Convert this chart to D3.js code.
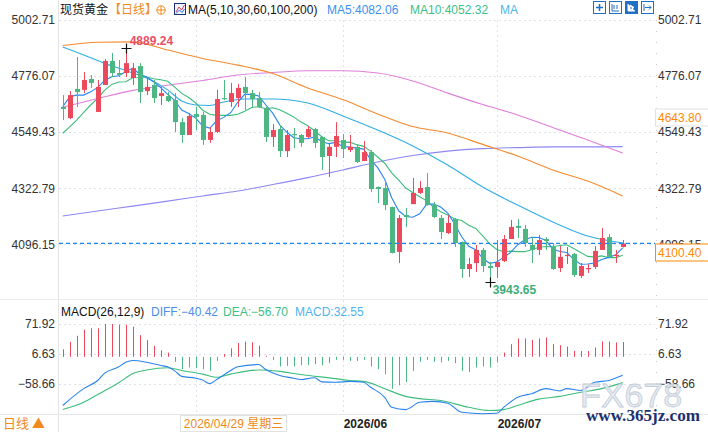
<!DOCTYPE html>
<html>
<head>
<meta charset="utf-8">
<script src="https://cdn.jsdelivr.net/npm/d3@7"></script>
<style>
  body { margin: 0; background: #fff; }
  svg { display: block; font-family: Arial, "Liberation Sans", sans-serif; }
  .axis text { fill: #333; }
  .axis path, .axis line { display: none; }
</style>
</head>
<body>
<div id="chart"></div>
<script>
// ---- daily candles ----
const opens  = [4651,4606,4724,4720,4764,4631,4740,4837,4788,4788,4768,4816,4715,4740,4695,4695,4679,4590,4538,4623,
                4619,4518,4550,4687,4671,4687,4732,4707,4687,4647,4530,4562,4473,4542,4538,4530,4562,4530,4453,4490,
                4518,4477,4490,4433,4469,4328,4324,4247,4066,4215,4259,4304,4328,4255,4203,4142,4199,4106,3997,4021,
                4074,4009,4005,4029,4118,4171,4159,4094,4074,4118,4086,4001,4050,4058,3969,3997,4005,4074,4126,4050,4086];
const highs  = [4699,4715,4853,4792,4780,4760,4845,4869,4841,4889.24,4828,4828,4768,4760,4732,4711,4707,4607,4627,4651,
                4631,4570,4720,4760,4748,4744,4772,4720,4711,4651,4582,4578,4558,4566,4542,4574,4566,4532,4506,4590,
                4542,4538,4498,4514,4477,4330,4352,4249,4215,4243,4364,4352,4385,4268,4215,4215,4203,4108,4042,4094,
                4082,4025,4114,4134,4195,4199,4175,4126,4134,4126,4102,4090,4086,4062,4021,4017,4090,4163,4138,4074,4114];
const lows   = [4598,4602,4651,4707,4728,4631,4740,4772,4772,4772,4740,4667,4699,4667,4659,4671,4550,4506,4538,4558,
                4498,4506,4546,4679,4651,4651,4639,4647,4647,4510,4490,4449,4449,4485,4490,4526,4485,4397,4368,4449,
                4445,4469,4425,4433,4308,4263,4235,4060,4021,4167,4259,4300,4252,4203,4118,4138,4086,3961,3965,3985,
                3985,3943.65,3961,4025,4118,4122,4086,4021,4054,4074,3993,3985,4017,3965,3961,3981,3997,4074,4042,4021,4084];
const closes = [4643,4699,4711,4760,4748,4732,4837,4788,4780,4828,4808,4711,4732,4687,4707,4675,4590,4538,4615,4611,
                4518,4550,4683,4683,4707,4728,4707,4683,4651,4530,4558,4473,4538,4538,4506,4562,4506,4449,4490,4534,
                4481,4490,4429,4469,4320,4320,4255,4062,4203,4207,4304,4324,4255,4207,4146,4183,4102,3997,4017,4074,
                4009,4001,4025,4118,4167,4163,4102,4074,4114,4110,3997,4046,4054,3973,4009,4001,4070,4122,4046,4054,4100.40];

// ---- moving averages ----
const ma5  = [4652,4692,4699,4699,4712,4730,4758,4773,4777,4793,4808,4783,4772,4753,4729,4702,4678,4639,4625,4606,
              4574,4566,4595,4609,4628,4670,4702,4702,4695,4660,4626,4579,4550,4527,4523,4523,4530,4512,4503,4508,
              4492,4489,4485,4481,4438,4406,4359,4285,4232,4209,4206,4220,4259,4259,4247,4223,4179,4127,4089,4075,
              4040,4020,4025,4045,4064,4095,4115,4125,4124,4113,4079,4068,4064,4036,4016,4017,4021,4035,4044,4054,4082.06];
const ma10 = [4545,4571,4598,4629,4659,4686,4719,4742,4752,4753,4769,4770,4772,4765,4761,4755,4731,4706,4689,4667,
              4638,4622,4617,4617,4617,4622,4634,4649,4652,4644,4648,4640,4626,4611,4591,4575,4555,4531,4515,4515,
              4508,4509,4499,4492,4473,4449,4424,4385,4356,4324,4306,4289,4272,4246,4228,4215,4199,4193,4174,4161,
              4131,4099,4076,4067,4069,4067,4067,4075,4085,4088,4087,4092,4095,4080,4064,4048,4045,4050,4043,4043,4052.32];
const ma30Idx = [0,3,6,9,12,15,17,19,21,23,26,30,35,40,45,50,55,60,65,70,75,80];
const ma30    = [4893,4861,4827,4798,4768,4720,4675,4659,4657,4671,4683,4683,4667,4615,4558,4494,4417,4328,4255,4187,4130,4102];
const slowIdx = [0,5,10,15,20,25,30,35,40,45,50,55,60,65,70,75,80];
const ma60    = [4899,4912,4914,4881,4847,4820,4786,4728,4681,4623,4572,4546,4500,4453,4397,4352,4292];
const ma100   = [4650,4685,4718,4739,4758,4780,4790,4797,4797,4788,4756,4707,4661,4619,4568,4518,4465];
const ma200   = [4211,4231,4251,4271,4292,4312,4338,4366,4397,4429,4455,4473,4483,4487,4490,4490,4491];

// ---- MACD(26,12,9) ----
const macdHist = [16.6,32.9,46.2,59.5,62.6,62.6,72.2,72.2,70.6,70.6,66.2,47.7,36.6,24,14.4,9.3,
                  -11.1,-27.3,-23.5,-25,-27.3,-31,-8.9,6,18.6,30.4,33.3,32,24.4,2.2,
                  -6.7,-21.3,-20,-21.3,-18.4,-18.4,-16.2,-18.4,-14,-6.7,-6.7,-8.9,
                  -8.9,-6.7,-21.3,-27.3,-38.4,-70.2,-62.8,-55.5,-31,-11,-6.7,-11,-12.4,-8.9,-14,-31,-33.3,-23.5,-21.3,-23.5,-12.4,
                  9.3,27.8,40.4,40.4,37.3,40.4,42.6,27.8,25.5,22.6,12.9,12.9,12.9,20.4,33.7,33.7,31.5,32.55];
const diffIdx = [0,3,5,6,8,9,10,12,14,15,16,17,19,20,21,22,24,25,28,29,31,33,34,36,37,39,41,43,44,46,
                 47,49,51,53,55,57,60,62,63,65,67,69,71,72,74,76,78,80];
const diffVal = [-107,-70,-52,-36,-22,-12,-8,-12,-19,-22,-31,-43,-47,-51,-59,-50,-30,-22,-17,-28,
                 -41,-47,-50,-46,-55,-56,-54,-56,-67,-89,-111,-116,-100,-98,-102,-122,-125,-124,-111,-89,
                 -81,-70,-75,-70,-74,-56,-52,-40.42];
const deaIdx = [0,3,5,8,10,12,15,17,20,22,24,28,31,34,39,41,43,46,49,51,54,58,61,63,65,68,71,74,77,80];
const deaVal = [-116,-100,-83,-57,-37,-29,-24,-30,-38,-45,-38,-29,-32,-39,-48,-52,-54,-70,-87,-92,
                -96,-111,-118,-116,-107,-93,-87,-78,-70,-56.70];

// ---- axes ----
const priceTicks = [5002.71, 4776.07, 4549.43, 4322.79, 4096.15];
const macdTicks = [71.92, 6.63, -58.66];
const monthIdx = [19, 40, 62];
const labelIdx = [40, 62];
const monthLabels = ['2026/06', '2026/07'];

const RED = '#eb4a5d', GREEN = '#4cb782';

const svg = d3.select('#chart').append('svg')
  .attr('width', 708)
  .attr('height', 432);

const x = d3.scaleBand().domain(d3.range(opens.length)).range([59.2, 626.2]);
const cx = i => x(i) + x.bandwidth() / 2;
const y = d3.scaleLinear().domain([priceTicks[4], priceTicks[0]]).range([244.45, 19.85]);
const ym = d3.scaleLinear().domain([macdTicks[2], macdTicks[0]]).range([383.5, 324.1]);

// frame
svg.append('line').attr('x1', 58.5).attr('x2', 58.5).attr('y1', 0).attr('y2', 432).attr('stroke', '#e3e3e3');
svg.append('line').attr('x1', 656.5).attr('x2', 656.5).attr('y1', 20).attr('y2', 414)
  .attr('stroke', '#c8c8c8').attr('stroke-dasharray', '1,10');
svg.append('line').attr('x1', 0).attr('x2', 708).attr('y1', 299.5).attr('y2', 299.5).attr('stroke', '#ececec');
svg.append('line').attr('x1', 0).attr('x2', 708).attr('y1', 414.5).attr('y2', 414.5).attr('stroke', '#e6e6e6');

// grid
const grid = svg.append('g').attr('stroke', '#dde3e8').attr('stroke-dasharray', '2,3');
grid.selectAll('.hp').data(priceTicks).enter().append('line')
  .attr('x1', 59).attr('x2', 655)
  .attr('y1', d => Math.round(y(d)) + 0.5).attr('y2', d => Math.round(y(d)) + 0.5);
grid.selectAll('.hm').data(macdTicks).enter().append('line')
  .attr('x1', 59).attr('x2', 655)
  .attr('y1', d => Math.round(ym(d)) + 0.5).attr('y2', d => Math.round(ym(d)) + 0.5);
grid.selectAll('.vg').data(monthIdx).enter().append('line')
  .attr('x1', d => Math.round(cx(d)) + 0.5).attr('x2', d => Math.round(cx(d)) + 0.5)
  .attr('y1', 20).attr('y2', 414);

// MA lines
const lineFull = d3.line().x((d, i) => cx(i)).y(d => y(d));
function sampledLine(idx, vals, scale) {
  return d3.line().curve(d3.curveMonotoneX)
    .x((d, k) => cx(idx[k])).y(d => scale(d))(vals);
}
const maG = svg.append('g').attr('fill', 'none').attr('stroke-width', 1.1);
maG.append('path').attr('d', sampledLine(slowIdx, ma200, y)).attr('stroke', '#8f88f2');
maG.append('path').attr('d', sampledLine(slowIdx, ma100, y)).attr('stroke', '#e07fdc');
maG.append('path').attr('d', sampledLine(slowIdx, ma60, y)).attr('stroke', '#f58a2e');
maG.append('path').attr('d', sampledLine(ma30Idx, ma30, y)).attr('stroke', '#2fade6');
maG.append('path').attr('d', lineFull(ma10)).attr('stroke', '#3dbd7d');
maG.append('path').attr('d', lineFull(ma5)).attr('stroke', '#2a84ee');

// candles
const candles = svg.append('g').selectAll('g').data(opens).enter().append('g');
candles.append('line')
  .attr('x1', (d, i) => Math.round(cx(i)) + 0.5)
  .attr('x2', (d, i) => Math.round(cx(i)) + 0.5)
  .attr('y1', (d, i) => y(highs[i]))
  .attr('y2', (d, i) => y(lows[i]))
  .attr('stroke', (d, i) => closes[i] >= opens[i] ? RED : GREEN);
candles.append('rect')
  .attr('x', (d, i) => Math.round(cx(i)) - 2)
  .attr('width', 5)
  .attr('y', (d, i) => y(Math.max(opens[i], closes[i])))
  .attr('height', (d, i) => Math.max(1.2, Math.abs(y(opens[i]) - y(closes[i]))))
  .attr('fill', (d, i) => closes[i] >= opens[i] ? RED : GREEN);

// last price dashed line
const last = closes[closes.length - 1];
svg.append('line')
  .attr('x1', 59).attr('x2', 655)
  .attr('y1', y(last)).attr('y2', y(last))
  .attr('stroke', '#1e86ee').attr('stroke-width', 1.2).attr('stroke-dasharray', '4,3');

// high / low markers
const hiIdx = highs.indexOf(d3.max(highs));
const loIdx = lows.indexOf(d3.min(lows));
function cross(i, v) {
  const px = Math.round(cx(i)) + 0.5, py = Math.round(y(v)) + 0.5;
  svg.append('path').attr('d', `M${px - 5},${py}H${px + 5}M${px},${py - 5}V${py + 5}`)
    .attr('stroke', '#111').attr('stroke-width', 1.2);
}
cross(hiIdx, highs[hiIdx]);
cross(loIdx, lows[loIdx]);
svg.append('text').attr('x', cx(hiIdx) + 4).attr('y', y(highs[hiIdx]) - 3)
  .attr('font-size', 12).attr('font-weight', 'bold').attr('fill', '#ea4f67')
  .text(d3.format('.2f')(highs[hiIdx]));
svg.append('text').attr('x', cx(loIdx) + 3).attr('y', y(lows[loIdx]) + 12)
  .attr('font-size', 12).attr('font-weight', 'bold').attr('fill', '#3cae76')
  .text(d3.format('.2f')(lows[loIdx]));

// MACD histogram
svg.append('g').selectAll('line').data(macdHist).enter().append('line')
  .attr('x1', (d, i) => Math.round(cx(i)) + 0.5)
  .attr('x2', (d, i) => Math.round(cx(i)) + 0.5)
  .attr('y1', ym(0))
  .attr('y2', d => ym(d))
  .attr('stroke', d => d >= 0 ? RED : GREEN);
svg.append('path').attr('d', sampledLine(deaIdx, deaVal, ym))
  .attr('fill', 'none').attr('stroke', '#3dbd7d').attr('stroke-width', 1.1);
svg.append('path').attr('d', sampledLine(diffIdx, diffVal, ym))
  .attr('fill', 'none').attr('stroke', '#2a84ee').attr('stroke-width', 1.1);

// axes
const fmt = d3.format('.2f');
function styleAxis(g) {
  g.attr('font-size', 12).attr('font-family', 'Arial, "Liberation Sans", sans-serif');
}
svg.append('g').attr('class', 'axis').attr('transform', 'translate(55,0)')
  .call(d3.axisLeft(y).tickValues(priceTicks).tickSize(0).tickPadding(0).tickFormat(fmt)).call(styleAxis);
svg.append('g').attr('class', 'axis').attr('transform', 'translate(657,0)')
  .call(d3.axisRight(y).tickValues(priceTicks).tickSize(0).tickPadding(1).tickFormat(fmt)).call(styleAxis);
svg.append('g').attr('class', 'axis').attr('transform', 'translate(55,0)')
  .call(d3.axisLeft(ym).tickValues(macdTicks).tickSize(0).tickPadding(0).tickFormat(fmt)).call(styleAxis);
svg.append('g').attr('class', 'axis').attr('transform', 'translate(657,0)')
  .call(d3.axisRight(ym).tickValues(macdTicks).tickSize(0).tickPadding(1).tickFormat(fmt)).call(styleAxis);

// month labels
svg.append('g').selectAll('text').data(labelIdx).enter().append('text')
  .attr('x', d => cx(d) + 1).attr('y', 428)
  .attr('font-size', 12).attr('font-weight', 'bold').attr('fill', '#222')
  .text((d, k) => monthLabels[k]);

// price boxes on the right
function priceBox(v, yc, stroke) {
  svg.append('rect').attr('x', 655.5).attr('y', yc - 8.5).attr('width', 60).attr('height', 17)
    .attr('fill', '#fff').attr('stroke', stroke);
  svg.append('text').attr('x', 658).attr('y', yc + 4.5)
    .attr('font-size', 12).attr('fill', '#ff8a00').text(fmt(v));
}
priceBox(4643.80, 117.5, '#e2e2e2');
priceBox(last, 252.5, '#ff8a00');

// crosshair date box
svg.append('rect').attr('x', 180.5).attr('y', 415.5).attr('width', 106).attr('height', 16)
  .attr('fill', '#fff').attr('stroke', '#e2e2e2');
svg.append('text').attr('x', 233.5).attr('y', 428).attr('text-anchor', 'middle')
  .attr('font-size', 12).attr('fill', '#f08a1c')
  .attr('font-family', 'Arial, "Noto Sans CJK SC", sans-serif')
  .text('2026/04/29 星期三');

// header
const head = svg.append('g').attr('font-size', 12);
head.append('text').attr('x', 60).attr('y', 14).attr('fill', '#111')
  .attr('font-family', '"Noto Sans CJK SC", sans-serif').text('现货黄金');
head.append('text').attr('x', 109).attr('y', 14).attr('fill', '#f08a1c')
  .attr('font-family', '"Noto Sans CJK SC", sans-serif').text('【日线】');
head.append('circle').attr('cx', 161).attr('cy', 10).attr('r', 4.2).attr('fill', 'none').attr('stroke', '#f08a1c');
head.append('path').attr('d', 'M156.8,10H165.2M161,5.8V14.2').attr('stroke', '#f08a1c');
head.append('rect').attr('x', 174.5).attr('y', 3.5).attr('width', 11).attr('height', 11)
  .attr('fill', '#eef3ff').attr('stroke', '#1c2f7a');
head.append('path').attr('d', 'M176,12L179,7L181.5,10L184.5,5').attr('fill', 'none').attr('stroke', '#e23b4b');
head.append('path').attr('d', 'M176,13.5L179.5,10L182,12.5L184.5,9').attr('fill', 'none').attr('stroke', '#2a6fe0');
head.append('text').attr('x', 188).attr('y', 14).attr('fill', '#111').text('MA(5,10,30,60,100,200)');
head.append('text').attr('x', 327).attr('y', 14).attr('fill', '#3d8ff0').text('MA5:' + fmt(ma5[ma5.length - 1]));
head.append('text').attr('x', 410).attr('y', 14).attr('fill', '#3cc08a').text('MA10:' + fmt(ma10[ma10.length - 1]));
head.append('text').attr('x', 500).attr('y', 14).attr('fill', '#4ab8f0').text('MA');

// toolbar icons
const icons = svg.append('g');
[593, 609, 625, 641].forEach((ix, k) => {
  icons.append('rect').attr('x', ix + 0.5).attr('y', 1.5).attr('width', 12).attr('height', 12)
    .attr('fill', k === 2 ? '#1f6fc4' : '#fff').attr('stroke', '#1f6fc4');
});
icons.append('path').attr('d', 'M596,7.5H603M599.5,4V11').attr('stroke', '#1f6fc4').attr('stroke-width', 1.5);
icons.append('path').attr('d', 'M612,4V11H619M614,5V9M617,5V9').attr('fill', 'none').attr('stroke', '#1f6fc4');
icons.append('path').attr('d', 'M628,4V11H635M630,5L634,7.5L630,10Z').attr('fill', '#fff').attr('stroke', '#fff');
icons.append('path').attr('d', 'M644,4V11M645,7.5H651M649,5.5L651,7.5L649,9.5').attr('fill', 'none').attr('stroke', '#1f6fc4');

// MACD legend
const leg = svg.append('g').attr('font-size', 12);
leg.append('text').attr('x', 61).attr('y', 316).attr('fill', '#111').text('MACD(26,12,9)');
leg.append('text').attr('x', 151).attr('y', 316).attr('fill', '#4a8fe8').text('DIFF:' + fmt(diffVal[diffVal.length - 1]));
leg.append('text').attr('x', 223).attr('y', 316).attr('fill', '#3cbf85').text('DEA:' + fmt(deaVal[deaVal.length - 1]));
leg.append('text').attr('x', 295).attr('y', 316).attr('fill', '#4fb4ee').text('MACD:' + fmt(macdHist[macdHist.length - 1]));

// bottom-left period
svg.append('text').attr('x', 3).attr('y', 428).attr('font-size', 13).attr('fill', '#f08a1c')
  .attr('font-family', '"Noto Sans CJK SC", sans-serif').text('日线 ▲');

// watermark
svg.append('text').attr('x', 580).attr('y', 407).attr('font-size', 34)
  .attr('fill', '#e2e8ef').attr('fill-opacity', 0.85).attr('stroke', '#c3ccd8').attr('stroke-width', 0.8)
  .attr('letter-spacing', 0.5).text('FX678');
svg.append('text').attr('x', 586).attr('y', 421).attr('font-size', 16).attr('font-weight', 'bold')
  .attr('font-family', '"Liberation Serif", "DejaVu Serif", serif')
  .attr('fill', '#1c3170').attr('textLength', 114).attr('lengthAdjust', 'spacingAndGlyphs')
  .text('www.365jz.com');
</script>
</body>
</html>
